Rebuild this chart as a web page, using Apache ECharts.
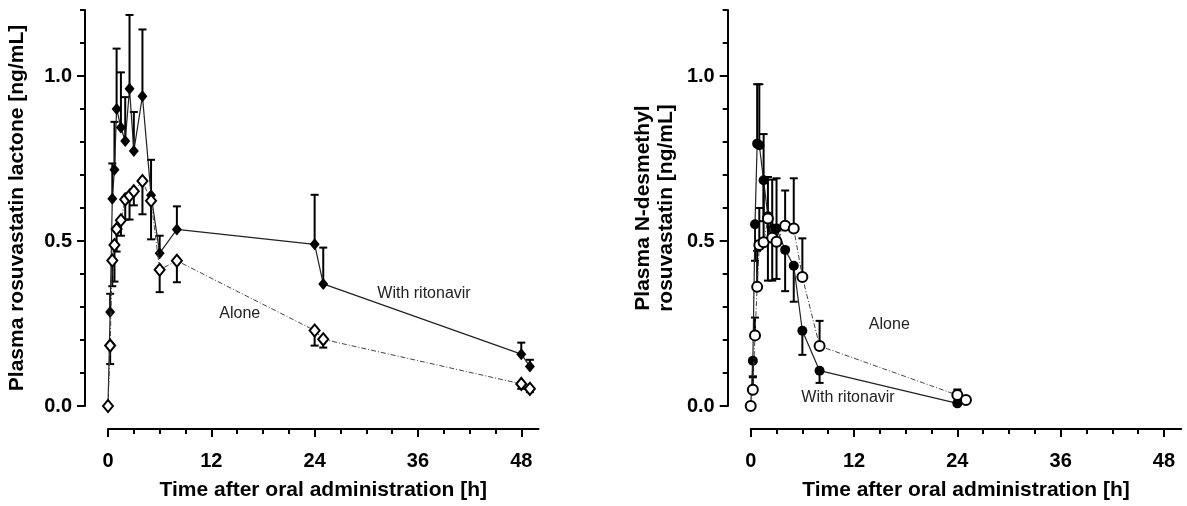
<!DOCTYPE html>
<html>
<head>
<meta charset="utf-8">
<script src="https://cdn.jsdelivr.net/npm/echarts@6/dist/echarts.min.js"></script>
<style>
html, body { margin: 0; padding: 0; background: #fff; }
#main { width: 1187px; height: 506px; }
</style>
</head>
<body>
<div id="main"></div>
<script>
// left panel: rosuvastatin lactone
var lactoneTimes = [0, 0.25, 0.5, 0.75, 1, 1.5, 2, 2.5, 3, 4, 5, 6, 8, 24, 25, 48, 49]
var lactoneRitonavir = [0, 0.285, 0.628, 0.716, 0.90, 0.844, 0.803, 0.961, 0.773, 0.939, 0.639, 0.463, 0.535, 0.49, 0.37, 0.157, 0.12]
var lactoneRitonavirErr = [0, 0.34, 0.735, 0.861, 1.083, 1.011, 0.936, 1.185, 0.891, 1.141, 0.746, 0.516, 0.605, 0.64, 0.48, 0.192, 0.14]
var lactoneAlone = [0, 0.183, 0.441, 0.488, 0.536, 0.563, 0.626, 0.637, 0.651, 0.682, 0.622, 0.413, 0.44, 0.229, 0.202, 0.067, 0.052]
var lactoneAloneErr = [0, 0.127, 0.363, 0.377, 0.468, 0.516, 0.565, 0.565, 0.608, 0.581, 0.505, 0.345, 0.375, 0.183, 0.177, 0.052, 0.042]

// right panel: N-desmethyl rosuvastatin
var desmethylRitonavirTimes = [0, 0.25, 0.5, 0.75, 1, 1.5, 2, 2.5, 3, 4, 5, 6, 8, 24]
var desmethylRitonavir = [0, 0.137, 0.551, 0.795, 0.79, 0.684, 0.575, 0.538, 0.538, 0.473, 0.425, 0.228, 0.107, 0.008]
var desmethylRitonavirErr = [0, 0.09, 0.44, 0.975, 0.975, 0.56, 0.38, 0.38, 0.385, 0.348, 0.316, 0.155, 0.07, 0.008]
var desmethylAloneTimes = [0, 0.25, 0.5, 0.75, 1, 1.5, 2, 2.5, 3, 4, 5, 6, 8, 24, 25]
var desmethylAlone = [0, 0.049, 0.214, 0.361, 0.488, 0.496, 0.568, 0.51, 0.498, 0.546, 0.538, 0.391, 0.182, 0.033, 0.018]
var desmethylAloneErr = [0, 0.087, 0.268, 0.47, 0.6, 0.824, 0.694, 0.686, 0.69, 0.653, 0.69, 0.508, 0.258, 0.05, 0.018]

// tick labels
var xMajor = [0, 12, 24, 36, 48]
var xMinor = [3, 6, 9, 15, 18, 21, 27, 30, 33, 39, 42, 45]
var yMajor = [0, 0.5, 1.0]
var yMinor = [0.1, 0.2, 0.3, 0.4, 0.6, 0.7, 0.8, 0.9, 1.1, 1.2]

var font = 'Arial, "Liberation Sans", sans-serif'

function pairs (xs, ys) {
	return xs.map(function (x, i) { return [x, ys[i]] })
}
function triples (xs, ys, es) {
	return xs.map(function (x, i) { return [x, ys[i], es[i]] })
}

function xAxes (gi) {
	return [{
		gridIndex: gi, type: 'value', min: 0, max: 50, position: 'bottom', offset: 23,
		axisLine: { show: true, onZero: false, lineStyle: { color: '#000', width: 2 } },
		axisTick: { show: true, customValues: xMajor, length: 8, lineStyle: { color: '#000', width: 2 } },
		axisLabel: { customValues: xMajor, margin: 22, fontSize: 20, fontWeight: 'bold', color: '#000', fontFamily: font },
		splitLine: { show: false },
		name: 'Time after oral administration [h]', nameLocation: 'middle', nameGap: 51,
		nameTextStyle: { fontSize: 21, fontWeight: 'bold', color: '#000', fontFamily: font }
	}, {
		// minor ticks only
		gridIndex: gi, type: 'value', min: 0, max: 50, position: 'bottom', offset: 23,
		axisLine: { show: false, onZero: false },
		axisTick: { show: true, customValues: xMinor, length: 5, lineStyle: { color: '#000', width: 2 } },
		axisLabel: { show: false },
		splitLine: { show: false }
	}]
}

function yAxes (gi, title, gap) {
	return [{
		gridIndex: gi, type: 'value', min: 0, max: 1.2, position: 'left', offset: 23,
		axisLine: { show: true, onZero: false, lineStyle: { color: '#000', width: 2 } },
		axisTick: { show: true, customValues: yMajor, length: 8, lineStyle: { color: '#000', width: 2 } },
		axisLabel: {
			customValues: yMajor, margin: 13, fontSize: 20, fontWeight: 'bold', color: '#000', fontFamily: font,
			formatter: function (v) { return v.toFixed(1) }
		},
		splitLine: { show: false },
		name: title, nameLocation: 'middle', nameGap: gap,
		nameTextStyle: { fontSize: 21, fontWeight: 'bold', color: '#000', fontFamily: font, lineHeight: 23 }
	}, {
		gridIndex: gi, type: 'value', min: 0, max: 1.2, position: 'left', offset: 23,
		axisLine: { show: false, onZero: false },
		axisTick: { show: true, customValues: yMinor, length: 5, lineStyle: { color: '#000', width: 2 } },
		axisLabel: { show: false },
		splitLine: { show: false }
	}]
}

function errorBars (gi, data) {
	return {
		type: 'custom',
		xAxisIndex: gi * 2, yAxisIndex: gi * 2,
		clip: false, z: 1,
		data: data,
		renderItem: function (params, api) {
			var p0 = api.coord([api.value(0), api.value(1)])
			var p1 = api.coord([api.value(0), api.value(2)])
			var style = { stroke: '#000', lineWidth: 2 }
			return {
				type: 'group',
				children: [
					{ type: 'line', shape: { x1: p0[0], y1: p0[1], x2: p1[0], y2: p1[1] }, style: style },
					{ type: 'line', shape: { x1: p1[0] - 4, y1: p1[1], x2: p1[0] + 4, y2: p1[1] }, style: style }
				]
			}
		}
	}
}

function lineSeries (gi, data, symbol, size, open) {
	return {
		type: 'line',
		xAxisIndex: gi * 2, yAxisIndex: gi * 2,
		data: data,
		clip: false,
		z: open ? 4 : 3,
		symbol: symbol,
		symbolSize: size,
		showAllSymbol: true,
		lineStyle: open
			? { color: '#444', width: 1, type: [5, 2, 1, 2] }
			: { color: '#222', width: 1.2 },
		itemStyle: open
			? { color: '#fff', borderColor: '#000', borderWidth: 2 }
			: { color: '#000', borderColor: '#000', borderWidth: 0 },
		emphasis: { disabled: true }
	}
}

var myChart = echarts.init(document.getElementById('main'))

var option = {
	animation: false,
	backgroundColor: '#fff',
	grid: [
		{ left: 108, top: 10, width: 430.5, height: 399 },
		{ left: 750.7, top: 10, width: 430.5, height: 399 }
	],
	xAxis: xAxes(0).concat(xAxes(1)),
	yAxis: yAxes(0, 'Plasma rosuvastatin lactone [ng/mL]', 56)
		.concat(yAxes(1, 'Plasma N-desmethyl\nrosuvastatin [ng/mL]', 50)),
	series: [
		errorBars(0, triples(lactoneTimes, lactoneRitonavir, lactoneRitonavirErr)),
		errorBars(0, triples(lactoneTimes, lactoneAlone, lactoneAloneErr)),
		lineSeries(0, pairs(lactoneTimes, lactoneRitonavir), 'diamond', [10, 12], false),
		lineSeries(0, pairs(lactoneTimes, lactoneAlone), 'diamond', [10, 12], true),
		errorBars(1, triples(desmethylRitonavirTimes, desmethylRitonavir, desmethylRitonavirErr)),
		errorBars(1, triples(desmethylAloneTimes, desmethylAlone, desmethylAloneErr)),
		lineSeries(1, pairs(desmethylRitonavirTimes, desmethylRitonavir), 'circle', 10, false),
		lineSeries(1, pairs(desmethylAloneTimes, desmethylAlone), 'circle', 10, true)
	]
}
myChart.setOption(option)

// annotation labels, anchored in data space
var notes = [
	{ gi: 0, at: [36.7, 0.34], text: 'With ritonavir' },
	{ gi: 0, at: [15.3, 0.28], text: 'Alone' },
	{ gi: 1, at: [16.1, 0.247], text: 'Alone' },
	{ gi: 1, at: [11.3, 0.024], text: 'With ritonavir' }
]
myChart.setOption({
	graphic: notes.map(function (n) {
		var p = myChart.convertToPixel({ xAxisIndex: n.gi * 2, yAxisIndex: n.gi * 2 }, n.at)
		return {
			type: 'text', x: p[0], y: p[1],
			style: { text: n.text, fontSize: 16, fontFamily: font, fill: '#222', align: 'center', verticalAlign: 'middle' }
		}
	})
})
</script>
</body>
</html>
